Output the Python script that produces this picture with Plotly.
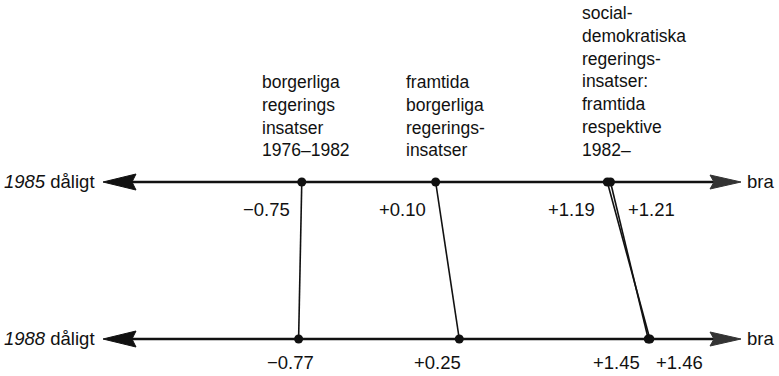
import plotly.graph_objects as go

# Ratings on a dåligt–bra scale, surveyed 1985 and 1988
series = [
    "borgerliga regeringsinsatser 1976–1982",
    "framtida borgerliga regeringsinsatser",
    "socialdemokratiska framtida",
    "socialdemokratiska respektive 1982–",
]
values_1985 = [-0.75, 0.10, 1.19, 1.21]
values_1988 = [-0.77, 0.25, 1.46, 1.45]

headings = [
    "borgerliga<br>regerings<br>insatser<br>1976–1982",
    "framtida<br>borgerliga<br>regerings-<br>insatser",
    "social-<br>demokratiska<br>regerings-<br>insatser:<br>framtida<br>respektive<br>1982–",
]
heading_x_px = [260, 404, 580]

W, H = 779, 376
Y85, Y88 = 182, 339          # vertical pixel positions of the two scales
FONT = "Liberation Sans, Arial, sans-serif"
INK = "#111111"


def fmt(v):
    s = f"{v:+.2f}"
    return s.replace("-", "\u2212")


fig = go.Figure()

# connecting lines between the two years
for a, b in zip(values_1985, values_1988):
    fig.add_trace(go.Scatter(
        x=[a, b], y=[Y85, Y88], mode="lines",
        line=dict(color=INK, width=1.6), hoverinfo="skip", showlegend=False))

# points on both scales
fig.add_trace(go.Scatter(
    x=values_1985 + values_1988,
    y=[Y85] * len(values_1985) + [Y88] * len(values_1988),
    mode="markers", marker=dict(size=9, color=INK),
    hoverinfo="skip", showlegend=False))

shapes = []
annotations = []


def px(p):
    return p / W


for yy, year in [(Y85, "1985"), (Y88, "1988")]:
    # scale line
    shapes.append(dict(type="line", xref="paper", yref="y",
                       x0=px(130), x1=px(716), y0=yy, y1=yy,
                       line=dict(color=INK, width=2.6)))
    # left arrowhead
    shapes.append(dict(type="path", xref="paper", yref="y",
                       path=f"M {px(103)} {yy} L {px(136)} {yy-8} L {px(132)} {yy} L {px(136)} {yy+8} Z",
                       fillcolor=INK, line=dict(color=INK, width=1)))
    # right arrowhead
    shapes.append(dict(type="path", xref="paper", yref="y",
                       path=f"M {px(741)} {yy} L {px(710)} {yy-7} L {px(714)} {yy} L {px(710)} {yy+7} Z",
                       fillcolor="#333333", line=dict(color="#333333", width=1)))
    annotations.append(dict(xref="paper", yref="y", x=px(97), y=yy - 1,
                            xanchor="right", yanchor="middle", showarrow=False,
                            text=f"<i>{year}</i> dåligt",
                            font=dict(family=FONT, size=18.5, color=INK)))
    annotations.append(dict(xref="paper", yref="y", x=px(745), y=yy - 1,
                            xanchor="left", yanchor="middle", showarrow=False,
                            text="bra",
                            font=dict(family=FONT, size=18.5, color=INK)))

# value labels: (anchor side, horizontal shift in px)
label_style_85 = [("right", -10), ("right", -8), ("right", -10), ("left", 16)]
label_style_88 = [("center", -8), ("right", 4), ("left", 4), ("right", -6)]

for v, (anc, sh) in zip(values_1985, label_style_85):
    annotations.append(dict(x=v, y=Y85 + 27, xanchor=anc, yanchor="middle",
                            xshift=sh, showarrow=False, text=fmt(v),
                            font=dict(family=FONT, size=18.5, color=INK)))
for v, (anc, sh) in zip(values_1988, label_style_88):
    annotations.append(dict(x=v, y=Y88 + 23, xanchor=anc, yanchor="middle",
                            xshift=sh, showarrow=False, text=fmt(v),
                            font=dict(family=FONT, size=18.5, color=INK)))

# headings above the scale
for txt, xp in zip(headings, heading_x_px):
    annotations.append(dict(xref="paper", yref="y", x=px(xp), y=162,
                            xanchor="left", yanchor="bottom", align="left",
                            showarrow=False, text=txt,
                            font=dict(family=FONT, size=17.5, color=INK)))

fig.update_layout(
    width=W, height=H,
    margin=dict(l=0, r=0, t=0, b=0),
    paper_bgcolor="white", plot_bgcolor="white",
    xaxis=dict(range=[-2.666, 2.280], visible=False, fixedrange=True),
    yaxis=dict(range=[H, 0], visible=False, fixedrange=True),
    shapes=shapes, annotations=annotations,
)

fig.write_html("out.html")
